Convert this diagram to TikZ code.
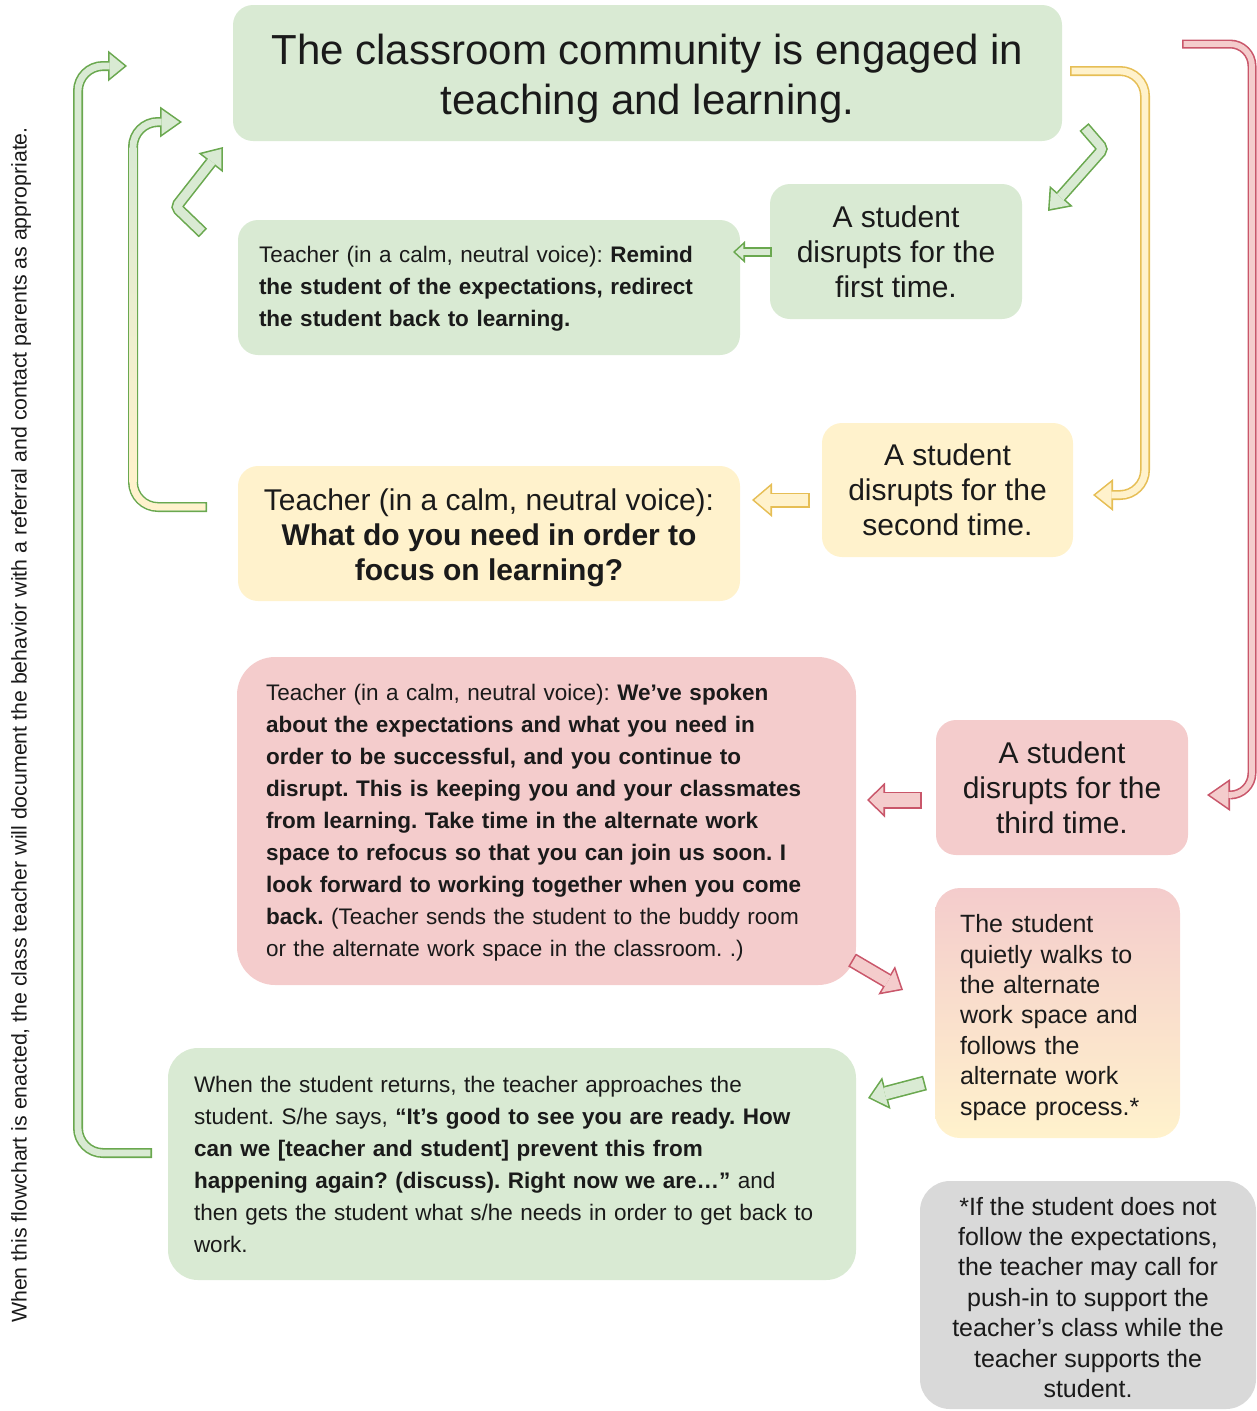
\documentclass[tikz,border=0pt]{standalone}
\usepackage{fontspec}
\setmainfont{Liberation Sans}
\usetikzlibrary{arrows.meta}
\frenchspacing
\definecolor{gfill}{HTML}{D9EAD3}
\definecolor{yfill}{HTML}{FFF2CC}
\definecolor{rfill}{HTML}{F4CCCC}
\definecolor{grayfill}{HTML}{D9D9D9}
\definecolor{gline}{HTML}{6AA84F}
\definecolor{yline}{HTML}{E6BE55}
\definecolor{rline}{HTML}{C9566A}
\definecolor{txt}{HTML}{1A1A1A}
\newcommand\fbig{\fontsize{42}{50}\selectfont}
\newcommand\fmid{\fontsize{30}{35}\selectfont}
\newcommand\fsml{\fontsize{22.5}{32}\selectfont}
\newcommand\fnote{\fontsize{25}{30.4}\selectfont}
\def\bd{1.6}
\newcommand\blockarrow[6]{%
  \pgfmathsetmacro\baH{#4/2}%
  \pgfmathsetmacro\baS{\baH/sqrt(\baH*\baH+#5*#5)}%
  \pgfmathsetmacro\baT{\bd/\baS}%
  \pgfmathsetmacro\baL{#5-\baT-\bd}%
  \pgfmathsetmacro\baW{#4*\baL/#5}%
  \pgfmathsetmacro\baIW{#3-2*\bd}%
  \draw[draw=#1, line width=#3pt, -{Triangle[length=#5pt,width=#4pt,line width=0pt]}] #6;
  \draw[draw=#2, line width=\baIW pt, shorten <=\bd pt, shorten >=\baT pt, -{Triangle[length=\baL pt,width=\baW pt,line width=0pt]}] #6;
}
\tikzset{
  box/.style={rounded corners=20pt, inner sep=0pt, text=txt},
  lbox/.style={box, align=left},
  cbox/.style={box, align=center},
}
\begin{document}
\begin{tikzpicture}[x=1pt,y=-1pt]
\useasboundingbox (0,0) rectangle (1257,1411);
% boxes
\node[cbox, fill=gfill, minimum width=829pt, minimum height=136pt, font=\fbig] (title) at (647.5,73)
  {\rule{0pt}{42pt}The classroom community is engaged in\\teaching and learning.};
\node[cbox, fill=gfill, minimum width=252pt, minimum height=135pt, font=\fmid] (first) at (896,251.5)
  {A student\\disrupts for the\\first time.};
\node[lbox, fill=gfill, minimum height=135pt, text width=460pt, inner xsep=21pt, font=\fsml] (remind) at (489,287.5)
  {\rule{0pt}{18pt}Teacher (in a calm, neutral voice): \textbf{Remind}\\\textbf{the student of the expectations, redirect}\\\textbf{the student back to learning.}};
\node[cbox, fill=yfill, minimum width=251pt, minimum height=134pt, font=\fmid] (second) at (947.5,490)
  {A student\\disrupts for the\\second time.};
\node[cbox, fill=yfill, minimum width=502pt, minimum height=135pt, font=\fmid] (need) at (489,533.5)
  {\rule{0pt}{30pt}Teacher (in a calm, neutral voice):\\\textbf{What do you need in order to}\\\textbf{focus on learning?}};
\node[lbox, fill=rfill, rounded corners=38pt, minimum height=328pt, text width=561pt, inner xsep=29pt, font=\fsml] (bigred) at (546.5,821)
  {\rule{0pt}{20pt}Teacher (in a calm, neutral voice): \textbf{We've spoken}\\
   \textbf{about the expectations and what you need in}\\
   \textbf{order to be successful, and you continue to}\\
   \textbf{disrupt. This is keeping you and your classmates}\\
   \textbf{from learning. Take time in the alternate work}\\
   \textbf{space to refocus so that you can join us soon. I}\\
   \textbf{look forward to working together when you come}\\
   \textbf{back.} (Teacher sends the student to the buddy room\\
   or the alternate work space in the classroom. .)};
\node[cbox, fill=rfill, minimum width=252pt, minimum height=135pt, font=\fmid] (third) at (1062,787.5)
  {A student\\disrupts for the\\third time.};
\node[lbox, top color=rfill, bottom color=yfill, rounded corners=25pt, minimum height=250pt, text width=195pt, inner xsep=25pt, font=\fnote] (walks) at (1057.5,1013)
  {\rule{0pt}{27pt}The student\\quietly walks to\\the alternate\\work space and\\follows the\\alternate work\\space process.*};
\node[lbox, fill=gfill, rounded corners=30pt, minimum height=232pt, text width=636pt, inner xsep=26pt, font=\fsml] (returns) at (512,1164)
  {When the student returns, the teacher approaches the\\
   student. S/he says, \textbf{“It's good to see you are ready. How}\\
   \textbf{can we [teacher and student] prevent this from}\\
   \textbf{happening again? (discuss). Right now we are…”} and\\
   then gets the student what s/he needs in order to get back to\\
   work.};
\node[cbox, fill=grayfill, rounded corners=30pt, minimum width=336pt, minimum height=228pt, font=\fnote] (gray) at (1088,1295)
  {\rule{0pt}{23pt}*If the student does not\\follow the expectations,\\the teacher may call for\\push-in to support the\\teacher's class while the\\teacher supports the\\student.};
\node[rotate=90, text=txt, font=\fontsize{21.3}{24}\selectfont] (note) at (21,725)
  {When this flowchart is enacted, the class teacher will document the behavior with a referral and contact parents as appropriate.};
% arrows
\blockarrow{gline}{gfill}{10}{31}{19}{[rounded corners=25pt] (152,1153) -- (78,1153) -- (78,66) -- (127,66)}
\blockarrow{gline}{gfill}{10}{31}{22}{[rounded corners=25pt] (207,507) -- (133,507) -- (133,122) -- (182,122)}
\draw[draw=yfill, line width=6.8pt, rounded corners=25pt] (205.4,507) -- (133,507) -- (133,481.5);
\shade[top color=gfill, bottom color=yfill] (129.6,147) rectangle (136.4,482);
\blockarrow{gline}{gfill}{12}{31}{20}{[rounded corners=4pt] (203,233) -- (176,207) -- (223,147)}
\blockarrow{gline}{gfill}{12}{31}{20}{[rounded corners=4pt] (1084,127) -- (1103,149) -- (1048,211)}
\blockarrow{yline}{yfill}{10}{32}{20}{[rounded corners=25pt] (1070,71) -- (1145,71) -- (1145,495) -- (1093,495)}
\blockarrow{rline}{rfill}{9}{32}{23}{[rounded corners=22pt] (1182,44) -- (1252,44) -- (1252,795) -- (1207,795)}
\blockarrow{gline}{gfill}{10}{22}{12}{(772,252) -- (733,252)}
\blockarrow{yline}{yfill}{15}{34}{20}{(810,500) -- (752,500)}
\blockarrow{rline}{rfill}{17}{35}{18}{(922,800) -- (867,800)}
\blockarrow{rline}{rfill}{15}{33}{19}{(852,960) -- (903,990)}
\blockarrow{gline}{gfill}{15}{33}{19}{(925,1083) -- (868,1098)}
\end{tikzpicture}
\end{document}
